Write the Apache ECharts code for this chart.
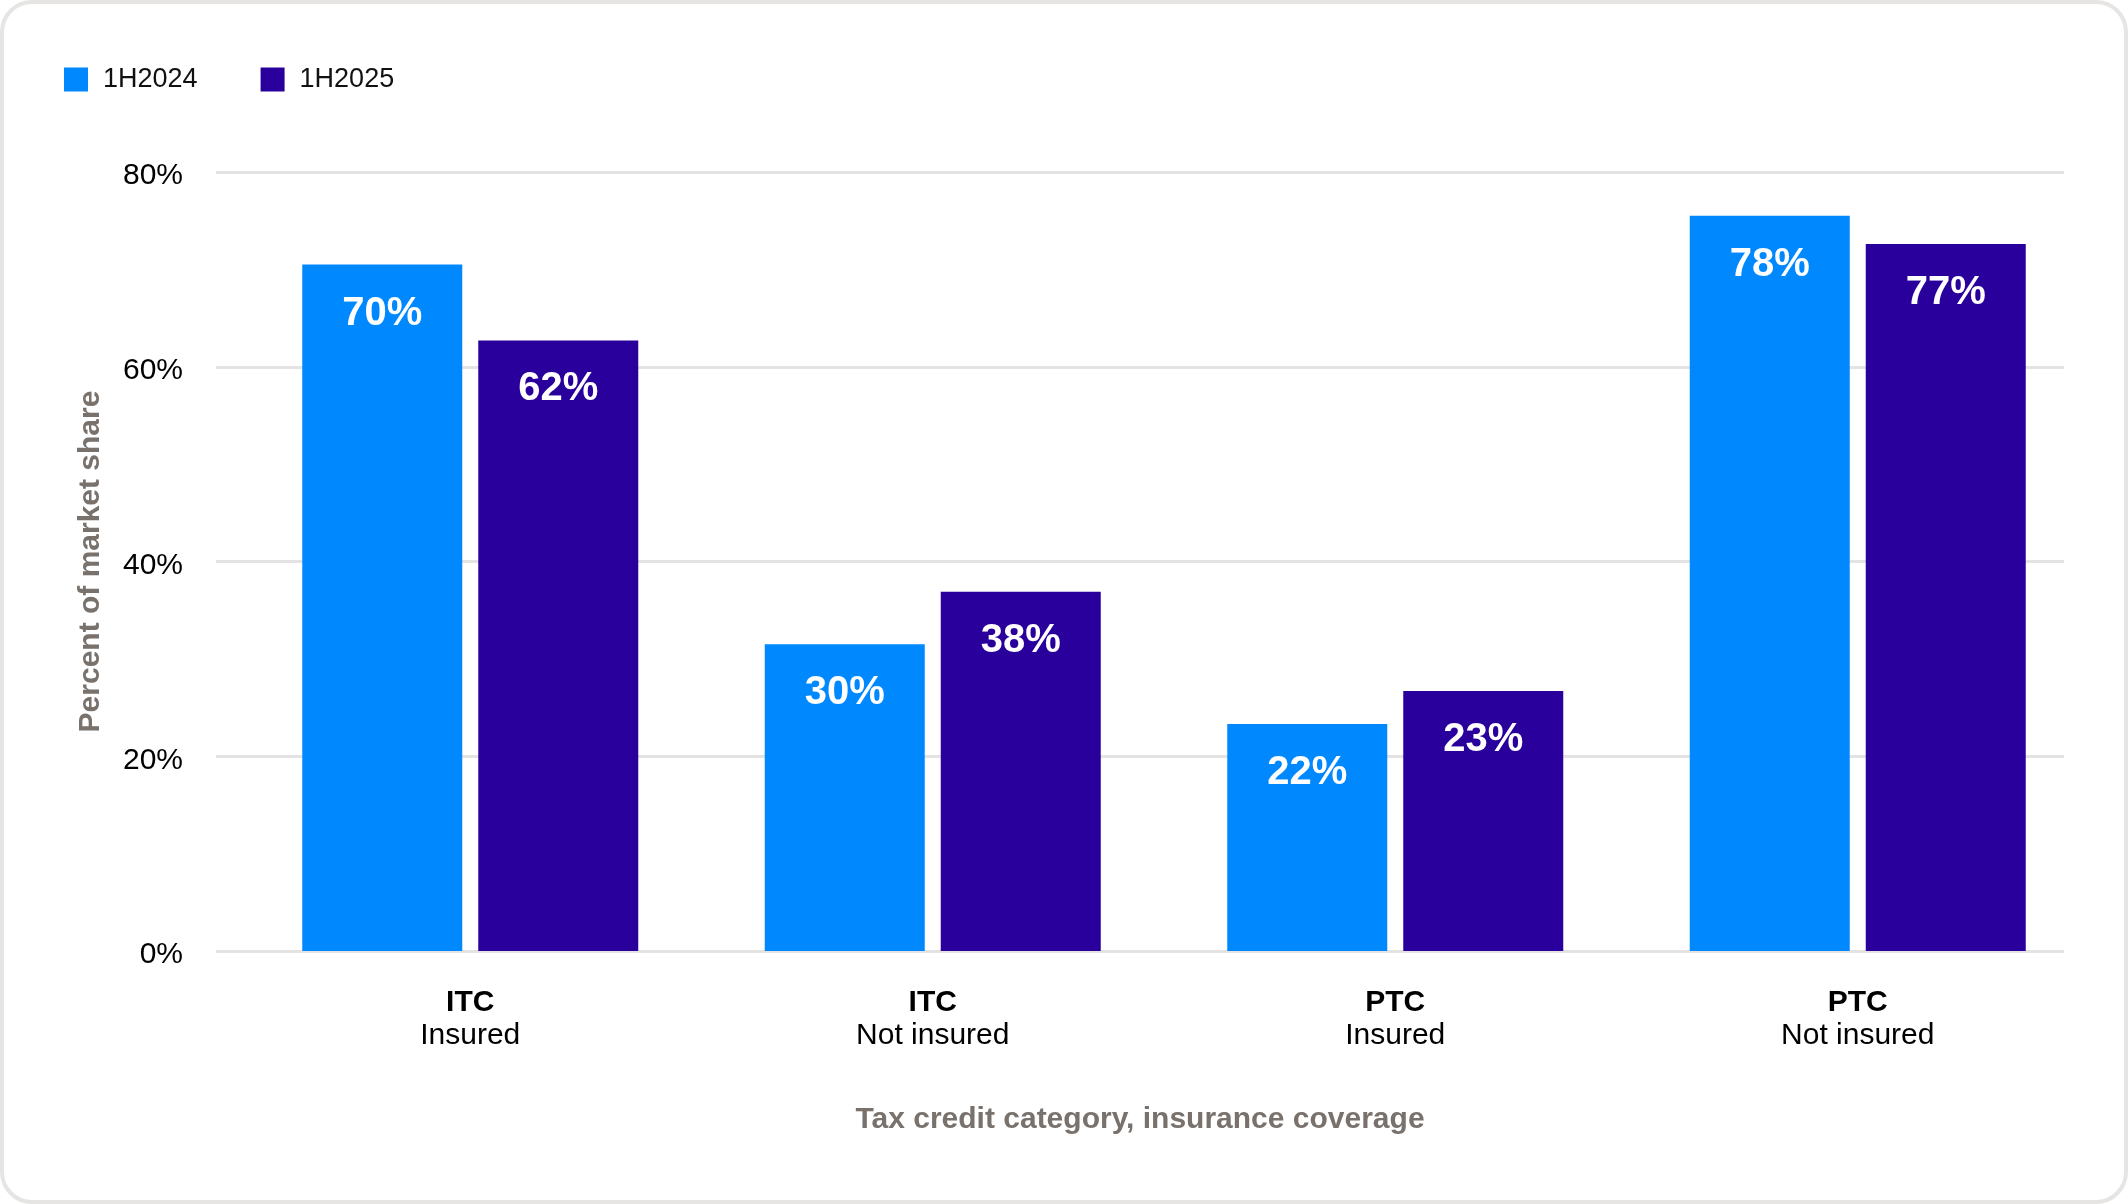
<!DOCTYPE html>
<html>
<head>
<meta charset="utf-8">
<script src="https://cdn.jsdelivr.net/npm/echarts@6/dist/echarts.min.js"></script>
<style>
html,body{margin:0;padding:0;background:#fff;}
#chart{width:2128px;height:1204px;}
</style>
</head>
<body>
<div id="chart"></div>
<script>
var categoriesTop = ['ITC', 'ITC', 'PTC', 'PTC'];
var categoriesSub = ['Insured', 'Not insured', 'Insured', 'Not insured'];
var seriesNames = ['1H2024', '1H2025'];
var values2024 = [70.5, 31.5, 23.3, 75.5];
var values2025 = [62.7, 36.9, 26.7, 72.6];
var labels2024 = ['70%', '30%', '22%', '78%'];
var labels2025 = ['62%', '38%', '23%', '77%'];
var yTicks = [0, 20, 40, 60, 80];

var FONT = '"Liberation Sans", Arial, sans-serif';
var categories = categoriesTop.map(function (t, i) { return t + '\n' + categoriesSub[i]; });

var chart = echarts.init(document.getElementById('chart'), null, {renderer: 'canvas'});

function barLabel(labels) {
  return {
    show: true,
    position: 'insideTop',
    distance: 29,
    color: '#ffffff',
    fontFamily: FONT,
    fontWeight: 'bold',
    fontSize: 40,
    formatter: function (p) { return labels[p.dataIndex]; }
  };
}

var option = {
  backgroundColor: '#ffffff',
  animation: false,
  graphic: [{
    type: 'rect',
    shape: {x: 2, y: 2, width: 2124, height: 1200, r: 30},
    style: {fill: 'none', stroke: '#e6e5e3', lineWidth: 4},
    silent: true,
    z: 100
  }],
  legend: {
    left: 64,
    top: 66,
    padding: 0,
    itemWidth: 24,
    itemHeight: 24,
    itemGap: 63,
    icon: 'rect',
    data: seriesNames,
    textStyle: {fontFamily: FONT, fontSize: 27, color: '#111111', padding: [0, 0, 0, 10]}
  },
  grid: [
    {left: 216, right: 64, top: 172, bottom: 253},
    {left: 239, width: 1850, top: 172, bottom: 253}
  ],
  xAxis: [
    {
      gridIndex: 0,
      type: 'category',
      data: categories,
      axisLine: {show: false},
      axisTick: {show: false},
      axisLabel: {show: false},
      name: 'Tax credit category, insurance coverage',
      nameLocation: 'middle',
      nameGap: 154,
      nameTextStyle: {fontFamily: FONT, fontSize: 30, fontWeight: 'bold', color: '#78716c'}
    },
    {
      gridIndex: 1,
      type: 'category',
      data: categories,
      axisLine: {show: false},
      axisTick: {show: false},
      axisLabel: {
        margin: 35,
        formatter: function (v, i) { return '{b|' + categoriesTop[i] + '}\n{n|' + categoriesSub[i] + '}'; },
        rich: {
          b: {fontFamily: FONT, fontSize: 30, fontWeight: 'bold', color: '#000000', lineHeight: 33},
          n: {fontFamily: FONT, fontSize: 30, color: '#000000', lineHeight: 33}
        }
      }
    }
  ],
  yAxis: [
    {
      gridIndex: 0,
      type: 'value',
      min: yTicks[0],
      max: yTicks[yTicks.length - 1],
      interval: 20,
      axisLine: {show: false},
      axisTick: {show: false},
      axisLabel: {
        margin: 33,
        formatter: '{v|{value}%}',
        rich: {v: {fontFamily: FONT, fontSize: 30, color: '#000000', padding: [8, 0, 0, 0]}}
      },
      splitLine: {lineStyle: {color: '#e4e3e1', width: 3}},
      name: 'Percent of market share',
      nameLocation: 'middle',
      nameGap: 110,
      nameTextStyle: {fontFamily: FONT, fontSize: 30, fontWeight: 'bold', color: '#78716c'}
    },
    {
      gridIndex: 1,
      type: 'value',
      min: yTicks[0],
      max: yTicks[yTicks.length - 1],
      interval: 20,
      show: false,
      splitLine: {show: false}
    }
  ],
  series: [
    {
      name: seriesNames[0],
      type: 'bar',
      xAxisIndex: 1,
      yAxisIndex: 1,
      data: values2024,
      barWidth: 160,
      barGap: '10%',
      itemStyle: {color: '#0088ff'},
      label: barLabel(labels2024)
    },
    {
      name: seriesNames[1],
      type: 'bar',
      xAxisIndex: 1,
      yAxisIndex: 1,
      data: values2025,
      barWidth: 160,
      barGap: '10%',
      itemStyle: {color: '#2a009c'},
      label: barLabel(labels2025)
    }
  ]
};
chart.setOption(option);
</script>
</body>
</html>
